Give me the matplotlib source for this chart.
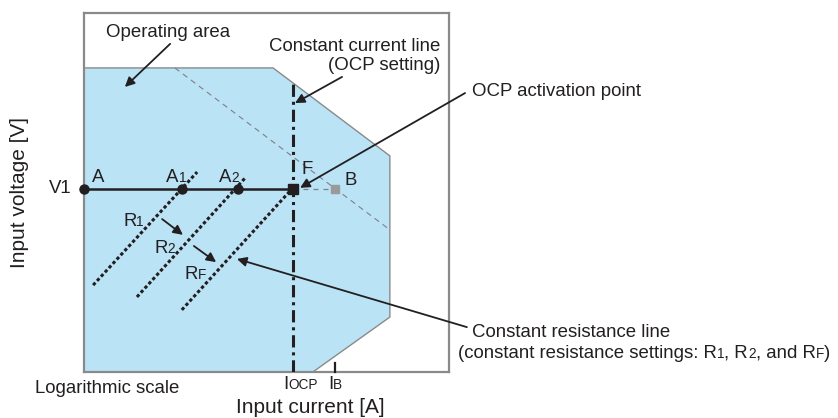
import matplotlib
matplotlib.use('Agg')
import matplotlib.pyplot as plt

plt.rcParams['font.family'] = ['Liberation Sans', 'DejaVu Sans']

# schematic values, both axes in relative units 0..100
area_i = [0, 51.8, 83.8, 83.8, 62.7, 0]
area_v = [84.7, 84.7, 60.2, 15.3, 0, 0]
power_i = [24.9, 83.8]
power_v = [84.7, 39.6]
v1 = 51.0
point_names = ['A', 'A1', 'A2']
point_i = [0, 26.8, 42.2]
i_ocp = 57.3
ocp_top = 80.5
i_b = 68.8
r_names = ['R1', 'R2', 'RF']
r_start_i = [2.5, 14.5, 26.8]
r_start_v = [24.2, 20.9, 17.3]
r_end_i = [31.0, 44.1, 56.7]
r_end_v = [55.7, 54.0, 50.7]

ink = '#231f20'
big = 13.4
small = 9.8

fig = plt.figure(figsize=(8.38, 4.18), dpi=100)
ax = fig.add_axes([84 / 838, 46 / 418, 365 / 838, 359 / 418])
ax.set_xlim(0, 100)
ax.set_ylim(0, 100)
ax.set_xticks([])
ax.set_yticks([])
for s in ax.spines.values():
    s.set_color('#8a8a8a')
    s.set_linewidth(1.6)

ax.fill(area_i, area_v, facecolor='#bae3f6', edgecolor='#8a8a8a', lw=1.0, zorder=1)

# constant power line (grey dashed)
ax.plot(power_i, power_v, color='#808080', lw=0.8, dashes=(5, 4), zorder=2)

# OCP constant current line
ax.plot([i_ocp, i_ocp], [0, ocp_top], color=ink, lw=2.2,
        linestyle=(0, (4, 1.6, 1, 1.6)), zorder=3)

# constant resistance lines
for k in range(len(r_names)):
    ax.plot([r_start_i[k], r_end_i[k]], [r_start_v[k], r_end_v[k]], color=ink,
            lw=2.2, linestyle=(0, (1.1, 0.8)), zorder=3)

# V1 operating line
ax.plot([0, i_ocp], [v1, v1], color=ink, lw=1.8, zorder=4)
ax.plot([i_ocp, i_b], [v1, v1], color='#808080', lw=0.9, dashes=(4, 4), zorder=2)
ax.plot(point_i, [v1] * len(point_i), 'o', color=ink, ms=6.5, clip_on=False, zorder=5)
ax.plot([i_ocp], [v1], 's', color=ink, ms=7.5, zorder=5)
ax.plot([i_b], [v1], 's', color='#9a9a9a', ms=6, zorder=5)

# IB tick
ax.plot([i_b, i_b], [0, 2.6], color=ink, lw=1.6, clip_on=False, zorder=5)


def rich(x, y, parts, **kw):
    t = ax.text(x, y, parts[0][0], fontsize=parts[0][1], va='baseline', ha='left',
                color=ink, **kw)
    for s, fs in parts[1:]:
        t = ax.annotate(s, xy=(1, y), xycoords=(t, 'data'), fontsize=fs,
                        va='baseline', ha='left', color=ink, annotation_clip=False)
    return t


def arrow(x0, y0, x1, y1):
    ax.annotate('', xy=(x1, y1), xytext=(x0, y0), annotation_clip=False,
                arrowprops=dict(arrowstyle='-|>', color=ink, lw=1.3,
                                mutation_scale=14, shrinkA=0, shrinkB=0))


# point labels
rich(2.2, 52.9, [('A', big)])
rich(22.5, 52.9, [('A', big), ('1', small)])
rich(37.0, 52.9, [('A', big), ('2', small)])
rich(59.5, 55.2, [('F', big)])
rich(71.5, 52.1, [('B', big)])
ax.text(-3.3, v1, 'V1', fontsize=big, ha='right', va='center', color=ink)

rich(10.7, 40.7, [('R', big), ('1', small)])
rich(19.2, 33.1, [('R', big), ('2', small)])
rich(27.4, 25.9, [('R', big), ('F', small)])
arrow(21.4, 42.6, 27.1, 38.2)
arrow(30.1, 35.1, 36.2, 30.6)

# annotations
ax.text(23.0, 94.7, 'Operating area', fontsize=big, ha='center', va='center', color=ink)
arrow(23.6, 91.4, 11.2, 79.4)

ax.text(97.5, 88.0, 'Constant current line\n(OCP setting)', fontsize=big, ha='right',
        va='center', multialignment='right', color=ink, linespacing=1.2)
arrow(70.7, 82.2, 57.8, 74.9)

rich(106.3, 76.9, [('OCP activation point', big)])
arrow(104.4, 77.7, 59.2, 51.3)

rich(106.3, 9.7, [('Constant resistance line', big)])
rich(102.5, 3.9, [('(constant resistance settings: R', big), ('1', small),
                  (', R', big), ('2', small), (', and R', big), ('F', small), (')', big)])
arrow(104.9, 12.5, 41.9, 31.5)

# axis texts
rich(54.5, -4.7, [('I', big), ('OCP', small)])
rich(66.8, -4.7, [('I', big), ('B', small)])
ax.text(6.3, -4.7, 'Logarithmic scale', fontsize=big, ha='center', va='center', color=ink)
ax.text(62.1, -10.0, 'Input current [A]', fontsize=15, ha='center', va='center', color=ink)
ax.text(-17.6, 50.1, 'Input voltage [V]', fontsize=15, ha='center', va='center',
        rotation=90, color=ink)

fig.savefig('out.png', dpi=100)
